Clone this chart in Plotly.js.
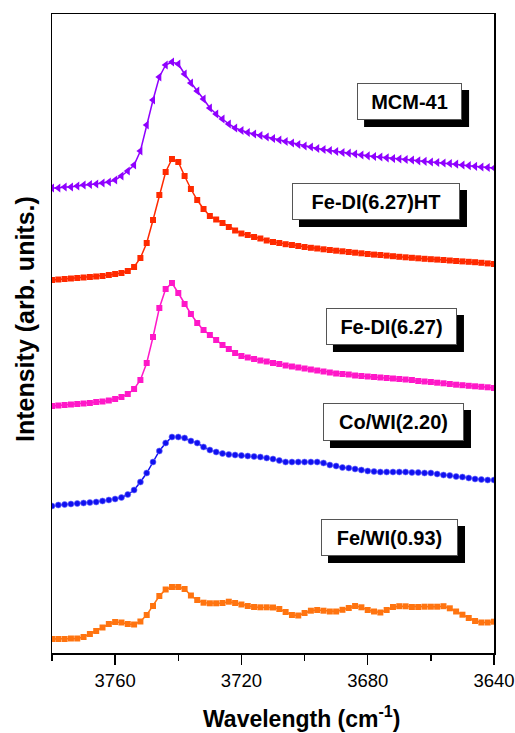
<!DOCTYPE html>
<html>
<head>
<meta charset="utf-8">
<script src="https://cdn.plot.ly/plotly-3.0.1.min.js"></script>
<style>html,body{margin:0;padding:0;background:#fff;}</style>
</head>
<body>
<div id="chart" style="width:515px;height:733px;"></div>
<script>
// Wavenumber (cm-1)
const wavenumber = [3780,3778,3776,3774,3772,3770,3768,3766,3764,3762,3760,3758,3756,3754,3752,3750,3748,3746,3744,3742,3740,3738,3736,3734,3732,3730,3728,3726,3724,3722,3720,3718,3716,3714,3712,3710,3708,3706,3704,3702,3700,3698,3696,3694,3692,3690,3688,3686,3684,3682,3680,3678,3676,3674,3672,3670,3668,3666,3664,3662,3660,3658,3656,3654,3652,3650,3648,3646,3644,3642,3640];

// Intensities (arb. units, stacked as displayed)
const mcm41 = [465,465,466,466,467,468,468.5,469,470,471, 473,477,482,488,502,528,553,576,588,591, 589,579,570,562,554,545,539,534,529,525, 522.5,520.5,519,517.5,516,514.5,513,511.5,510,508.5, 507,506,504.5,503.5,502.5,501.5,500.5,499.8,499,498, 497.2,496.5,496,495.2,494.5,494,493.5,493,492.2,491.7, 491,490.5,490,489.5,488.8,488,487.3,486.7,486,485.5,485];
const feDI627HT = [373,373.5,374,374.5,375,375.5,376,376.5,377,378, 379,380,382,386,395,410,433,458,481,494, 491,477,464,453,444,437,433.5,430,426,422.5, 419.5,418,416,414.5,412.5,411,410,408.8,408,407, 406,405.2,404.5,403.7,403,402.3,401.7,401,400.3,399.7, 399,398.4,398,397.4,396.8,396.2,395.7,395.2,394.7,394.2, 393.8,393.4,393,392.5,392,391.6,391.2,390.8,390.2,389.6,389];
const feDI627 = [247,247.5,248,248.5,249,249.5,250,251,251.5,252.5, 254,256,259,264,273,290,316,345,364,370, 360,349,339,330,323,318,313,308,304,300, 297,295.5,294,292.5,291.5,290,289,287.5,286.5,285.5, 284.5,283.5,282.5,281.5,280.5,279.5,279,278.5,277.5,277, 276.5,276,275.5,275,274.5,274,273.5,273,272,271.5, 271,270.3,269.7,269,268.3,267.8,267.2,266.7,266.2,265.7,265];
const coWI220 = [147,148,148.5,149,149.5,150,150.5,151,152,153, 154,155.5,158.5,163,171,180,191,202,210,216, 216,215,212,210,206,203,201,199.5,198.5,198, 197.5,197,196.5,196,195,194,192.5,191,191,191, 191,191,191,190,188,187,185.5,185,184,183, 182,181.5,181,181,181,181,181,180.5,180.5,180, 180,179,178,177.5,176.5,176,175,174,173.5,173,173];
const feWI093 = [14,14,14,14.5,14.5,16,19,22,25.5,29, 31,30.5,29,28.5,31.5,38,47,57,63.5,66, 66,64,57.5,53,50.3,49.7,49.7,50,51.3,50, 48.5,47,46,45.7,45.7,45.5,44,41,38,37.5, 40,42.3,43,42.3,41.5,41.5,43.2,45,47,45.7, 43,41.5,40.5,43,46,46.8,46.7,46,46,46.3, 46.3,46.3,46.8,44.7,41.5,38.3,35,32,30.5,30.5,31.3];

const seriesNames = ['MCM-41','Fe-DI(6.27)HT','Fe-DI(6.27)','Co/WI(2.20)','Fe/WI(0.93)'];
const seriesColors = ['#8f00ff','#ff2a00','#ff18c8','#1010f0','#ff7410'];
const tickValues = [3760,3720,3680,3640];
const tickText = ['3760','3720','3680','3640'];
const xTitle = 'Wavelength (cm<sup>-1</sup>)';
const yTitle = 'Intensity (arb. units.)';

const ys = [mcm41, feDI627HT, feDI627, coWI220, feWI093];
const symbols = ['triangle-left','square','square','circle','square'];
const sizes = [8,6,6,6,6];

const traces = ys.map((y,i)=>({
  x: wavenumber, y: y, name: seriesNames[i], type:'scatter', mode:'lines+markers',
  line:{color:seriesColors[i], width:1.5},
  marker:{symbol:symbols[i], size:sizes[i], color:seriesColors[i],
    line:{width: i===3 ? 0.6 : 0, color: i===3 ? '#7070ff' : seriesColors[i]}},
  showlegend:false, hoverinfo:'x+y+name'
}));

const W = 515, H = 733;
const M = {l:52, r:21, t:14, b:80};
const plotW = W - M.l - M.r, plotH = H - M.t - M.b;

// label boxes (paper coords, px sizes)
const labelPos = [
  {x:0.809, y:0.863, w:101, h:33},
  {x:0.733, y:0.7066, w:164, h:33},
  {x:0.768, y:0.511, w:127, h:33},
  {x:0.7726, y:0.3615, w:137, h:34},
  {x:0.7636, y:0.1808, w:133, h:33}
];
const shadowOff = 7;
const annFont = {family:'Liberation Sans, Arial, sans-serif', size:20, color:'#000'};
const annotations = [];
const shapes = [];
labelPos.forEach((p,i)=>{
  const bw = p.w + 4, bh = p.h + 4;
  shapes.push({type:'rect', xref:'paper', yref:'paper', layer:'above',
    x0: p.x + (shadowOff - bw/2)/plotW, x1: p.x + (shadowOff + bw/2)/plotW,
    y0: p.y + (-shadowOff - bh/2)/plotH, y1: p.y + (-shadowOff + bh/2)/plotH,
    fillcolor:'#000', line:{width:0}});
  annotations.push({xref:'paper', yref:'paper', x:p.x, y:p.y, xanchor:'center', yanchor:'middle',
    text:'<b>'+seriesNames[i]+'</b>', showarrow:false, width:p.w, height:p.h,
    bgcolor:'#fff', bordercolor:'#555', borderwidth:1, borderpad:1,
    font:annFont});
});

// axis titles placed as in the reference
annotations.push({xref:'paper', yref:'paper', x:(302-M.l)/plotW, y:(M.t+plotH-717)/plotH,
  xanchor:'center', yanchor:'middle', showarrow:false,
  text:'<b>'+xTitle+'</b>', font:{family:'Liberation Sans, Arial, sans-serif', size:23, color:'#000'}});
annotations.push({xref:'paper', yref:'paper', x:(25-M.l)/plotW, y:(M.t+plotH-319)/plotH,
  xanchor:'center', yanchor:'middle', showarrow:false, textangle:-90,
  text:'<b>'+yTitle+'</b>', font:{family:'Liberation Sans, Arial, sans-serif', size:25, color:'#000'}});

const layout = {
  width:W, height:H,
  margin:{l:M.l, r:M.r, t:M.t, b:M.b, pad:0},
  paper_bgcolor:'#fff', plot_bgcolor:'#fff',
  font:{family:'Liberation Sans, Arial, sans-serif', color:'#000'},
  xaxis:{
    range:[3780,3640], tickvals:tickValues, ticktext:tickText,
    ticks:'outside', ticklen:10, tickwidth:1.5, tickcolor:'#000',
    minor:{tickvals:[3780,3740,3700,3660], ticks:'outside', ticklen:6, tickwidth:1.5, tickcolor:'#000', showgrid:false},
    showline:true, linecolor:'#000', linewidth:1.5, mirror:true,
    showgrid:false, zeroline:false,
    tickfont:{size:18.5, color:'#000'}
  },
  yaxis:{
    range:[0,639], showticklabels:false, ticks:'',
    showline:true, linecolor:'#000', linewidth:1.5, mirror:true,
    showgrid:false, zeroline:false
  },
  shapes: shapes,
  annotations: annotations,
  showlegend:false
};

Plotly.newPlot('chart', traces, layout, {displayModeBar:false, staticPlot:true});
</script>
</body>
</html>
